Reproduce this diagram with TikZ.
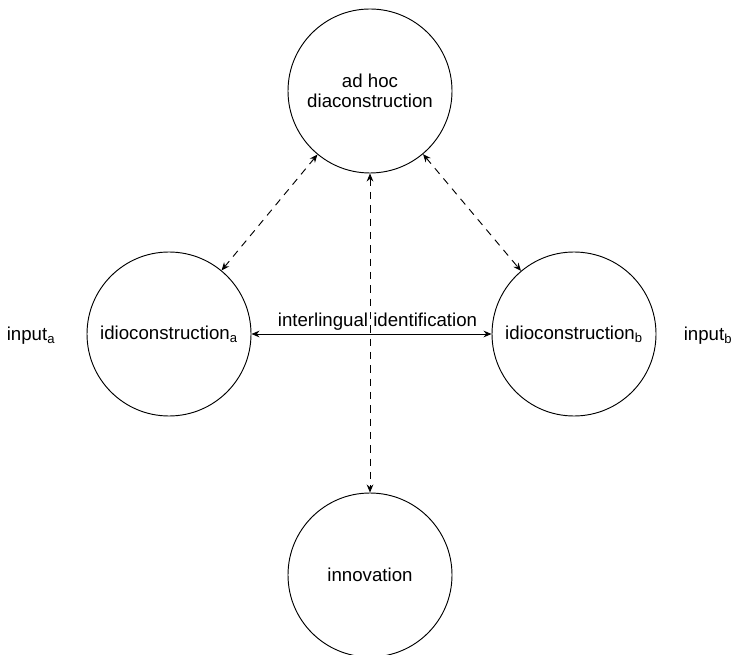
\documentclass[tikz,border=0pt]{standalone}
\usepackage{fontspec}
\setmainfont{Liberation Sans}
\usetikzlibrary{arrows.meta}
\begin{document}
\begin{tikzpicture}[x=0.75pt,y=-0.75pt,
    every node/.style={font=\fontsize{14pt}{15pt}\selectfont},
    cons/.style={draw, circle, minimum size=123pt, inner sep=0pt, line width=0.7pt, align=center},
    link/.style={line width=0.7pt, {Stealth[length=6pt,width=5pt]}-{Stealth[length=6pt,width=5pt]}},
    dlink/.style={link, dash pattern=on 5.5pt off 4.5pt}]
  \useasboundingbox (0,0) rectangle (737,655);
  % circulos
  \node[cons] (dia) at (370,91) {ad hoc\\diaconstruction};
  \node[cons] (ida) at (169,334) {idioconstruction\textsubscript{a}};
  \node[cons] (idb) at (574,334) {idioconstruction\textsubscript{b}};
  \node[cons] (inno) at (370,575) {innovation};
  % entradas
  \node (ina) at (31,336) {input\textsubscript{a}};
  \node (inb) at (708,336) {input\textsubscript{b}};
  % flechas
  \draw[link] (ida) -- node[above, xshift=4.5pt, yshift=-1pt]{interlingual identification} (idb);
  \draw[dlink] (dia) -- (ida);
  \draw[dlink] (dia) -- (idb);
  \draw[dlink] (dia) -- (inno);
\end{tikzpicture}
\end{document}
